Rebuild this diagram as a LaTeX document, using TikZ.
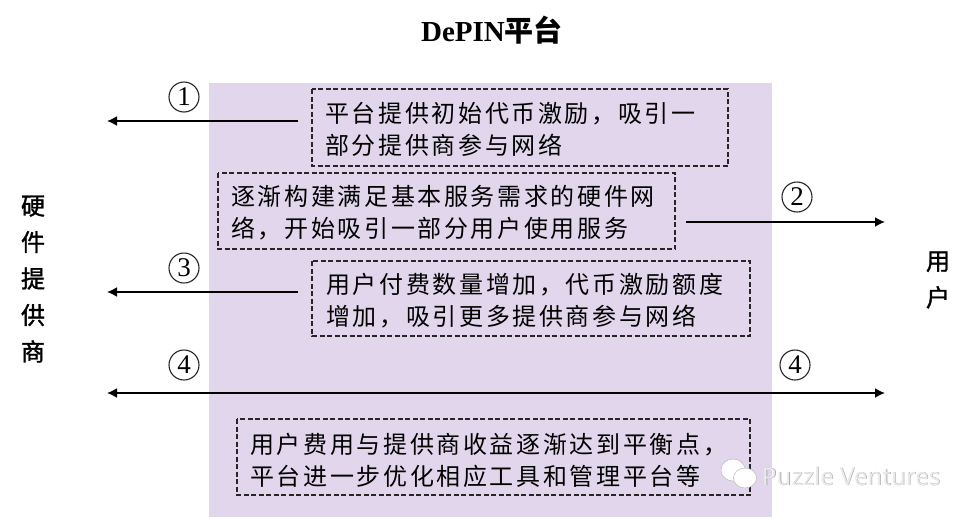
\documentclass[tikz,border=0pt]{standalone}
\usepackage{fontspec}
\setmainfont{Liberation Serif}
\newfontfamily\cjk[LetterSpace=11]{Noto Sans CJK SC}
\newfontfamily\cjktitle{Noto Sans CJK SC}
\newfontfamily\cjkside[FakeBold=1.5]{Noto Sans CJK SC}
\newfontfamily\wmfont{Noto Sans}
\usetikzlibrary{positioning,arrows.meta}
\definecolor{platformbg}{RGB}{225,214,236}
\tikzset{
  every node/.append style={inner sep=0pt},
  noteline/.style={font=\cjk\fontsize{24}{32}\selectfont,align=left,anchor=west},
  notebox/.style={draw=black!85,dash pattern=on 5pt off 2.5pt,line width=1.2pt},
  stepmark/.style={draw=black!85,circle,minimum size=30pt,line width=1.1pt,font=\fontsize{27}{27}\selectfont},
  flow/.style={line width=1.8pt,-{Latex[length=10pt,width=10pt]}},
  sidelabel/.style={font=\cjkside\fontsize{24}{36.5}\selectfont,align=center},
  bubble/.style={fill=white,draw=black!30,line width=0.4pt},
}
\begin{document}
\begin{tikzpicture}[x=1pt,y=-1pt]
    \useasboundingbox (0,0) rectangle (972,517);
    \fill [platformbg] (209,83) rectangle (772,517);
    \node (title) at (492,30) {\bfseries\fontsize{29}{29}\selectfont DePIN\cjktitle 平台};
    % left and right
    \node [sidelabel] (supplier) at (33,279) {硬\\件\\提\\供\\商};
    \node [sidelabel] (customer) at (938,280) {用\\户};
    % notes
    \draw [notebox] (312,89) rectangle (728,166);
    \node [noteline] (note1) at (325,129.5) {平台提供初始代币激励，吸引一\\部分提供商参与网络};
    \draw [notebox] (218,173) rectangle (675,249);
    \node [noteline] (note2) at (231,213) {逐渐构建满足基本服务需求的硬件网\\络，开始吸引一部分用户使用服务};
    \draw [notebox] (312,261) rectangle (750,336);
    \node [noteline] (note3) at (326,301) {用户付费数量增加，代币激励额度\\增加，吸引更多提供商参与网络};
    \draw [notebox] (237,419) rectangle (750,495);
    \node [noteline] (note4) at (250,460) {用户费用与提供商收益逐渐达到平衡点，\\平台进一步优化相应工具和管理平台等};
    % step numbers
    \node [stepmark] (one) at (184,97) {1};
    \node [stepmark] (two) at (797,197) {2};
    \node [stepmark] (three) at (184,268) {3};
    \node [stepmark] (fourl) at (184,365) {4};
    \node [stepmark] (fourr) at (795,365) {4};
    % arrows
    \coordinate (a1) at (298,121);
    \coordinate (b1) at (107,121);
    \coordinate (a2) at (686,222);
    \coordinate (b2) at (885,222);
    \coordinate (a3) at (298,292);
    \coordinate (b3) at (107,292);
    \coordinate (a4) at (107,393);
    \coordinate (b4) at (885,393);
    \draw [flow] (a1) -- (b1);
    \draw [flow] (a2) -- (b2);
    \draw [flow] (a3) -- (b3);
    \draw [flow,{Latex[length=10pt,width=10pt]}-{Latex[length=10pt,width=10pt]}] (a4) -- (b4);
    % watermark
    \draw [bubble] (733,470) ellipse (12 and 11);
    \draw [bubble] (745,478) ellipse (11.5 and 10);
    \node [anchor=west,text=black!40] (markshade) at (762.6,476.6) {\wmfont\fontsize{24}{24}\selectfont Puzzle Ventures};
    \node [anchor=west,text=white!92!black] (mark) at (762,476) {\wmfont\fontsize{24}{24}\selectfont Puzzle Ventures};
  \end{tikzpicture}
\end{document}
